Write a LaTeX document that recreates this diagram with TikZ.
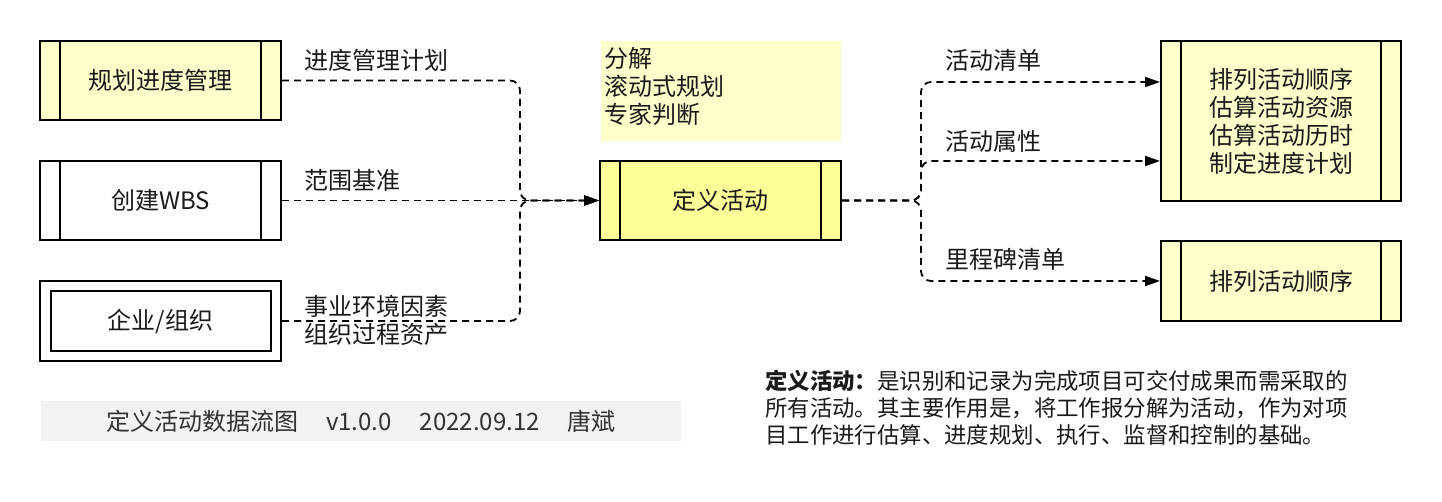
\documentclass[tikz,border=0pt]{standalone}
\usepackage{fontspec}
\setmainfont{Noto Sans CJK SC}
\usetikzlibrary{arrows.meta,calc}
\definecolor{lightyel}{HTML}{FFFFCC}
\definecolor{brightyel}{HTML}{FFFF99}
\definecolor{bandgray}{HTML}{F2F2F2}
\definecolor{txt}{HTML}{1A1A1A}
\definecolor{bandtxt}{HTML}{333333}
\tikzset{
  procbox/.style={draw=black, line width=2pt, minimum width=241pt, minimum height=79pt,
    inner sep=0pt, text=txt, align=center, font=\fontsize{24}{28}\selectfont},
  flow/.style={line width=1.8pt, dash pattern=on 7pt off 5pt, rounded corners=10pt,
    -{Triangle[length=15pt,width=10pt]}},
  lbl/.style={anchor=west, inner sep=0pt, text=txt, font=\fontsize{24}{28}\selectfont, align=left},
}
\newcommand{\sidebars}[1]{%
  \draw[line width=2pt] ([xshift=21pt]#1.north west) -- ([xshift=21pt]#1.south west);
  \draw[line width=2pt] ([xshift=-21pt]#1.north east) -- ([xshift=-21pt]#1.south east);}
\begin{document}
\begin{tikzpicture}[x=1pt,y=-1pt]
\useasboundingbox[fill=white] (0,0) rectangle (1442,502);

% left boxes
\node[procbox, fill=lightyel] (b1) at (160.5,80.5) {规划进度管理};
\sidebars{b1}
\node[procbox, fill=white] (b2) at (160.5,200.5) {创建WBS};
\sidebars{b2}
\node[procbox, fill=white, minimum height=80pt] (b3) at (160.5,321) {};
\node[procbox, fill=white, minimum width=220pt, minimum height=60pt] (b3i) at (160.5,321) {企业/组织};

% centre
\node[fill=lightyel, minimum width=240pt, minimum height=100pt, inner sep=0pt] (note) at (721,91) {};
\node[lbl, anchor=north west, text width=230pt] (notetxt) at (604,47) {分解\\滚动式规划\\专家判断};
\node[procbox, fill=brightyel] (act) at (720.5,200.5) {定义活动};
\sidebars{act}

% right boxes
\node[procbox, fill=lightyel, minimum width=240pt, minimum height=160pt] (r1) at (1281,121)
  {排列活动顺序\\估算活动资源\\估算活动历时\\制定进度计划};
\sidebars{r1}
\node[procbox, fill=lightyel, minimum width=240pt, minimum height=80pt] (r2) at (1281,281) {排列活动顺序};
\sidebars{r2}

% junctions
\coordinate (jl) at (520,200.5);
\coordinate (jr) at (921,200.5);
\coordinate (r1a) at ([yshift=39pt]r1.west);
\coordinate (r1b) at ([yshift=-40pt]r1.west);

% connectors
\draw[flow] (b1.east) -| (jl) -- (act.west);
\draw[flow] (b2.east) -- (act.west);
\draw[flow] (b3.east) -| (jl) -- (act.west);
\draw[flow] (act.east) -- (jr) |- (r1a);
\draw[flow] (act.east) -- (jr) |- (r1b);
\draw[flow] (act.east) -- (jr) |- (r2.west);

% labels
\node[lbl] (l1) at (304,60) {进度管理计划};
\node[lbl] (l2) at (304,180) {范围基准};
\node[lbl] (l3) at (304,306) {事业环境因素};
\node[lbl] (l4) at (304,334) {组织过程资产};
\node[lbl] (l5) at (945,60) {活动清单};
\node[lbl] (l6) at (945,141) {活动属性};
\node[lbl] (l7) at (945,259) {里程碑清单};

% bottom band
\node[fill=bandgray, minimum width=640pt, minimum height=40pt, inner sep=0pt,
  text=bandtxt, font=\fontsize{24}{28}\selectfont] (band) at (361,421)
  {定义活动数据流图\hspace{28pt}v1.0.0\hspace{28pt}2022.09.12\hspace{28pt}唐斌};

% description
\node[lbl, anchor=north west, font=\fontsize{22.4}{27}\selectfont] (desc) at (765,370)
  {{\bfseries 定义活动：}是识别和记录为完成项目可交付成果而需采取的\\
   所有活动。其主要作用是，将工作报分解为活动，作为对项\\
   目工作进行估算、进度规划、执行、监督和控制的基础。};
\end{tikzpicture}
\end{document}
